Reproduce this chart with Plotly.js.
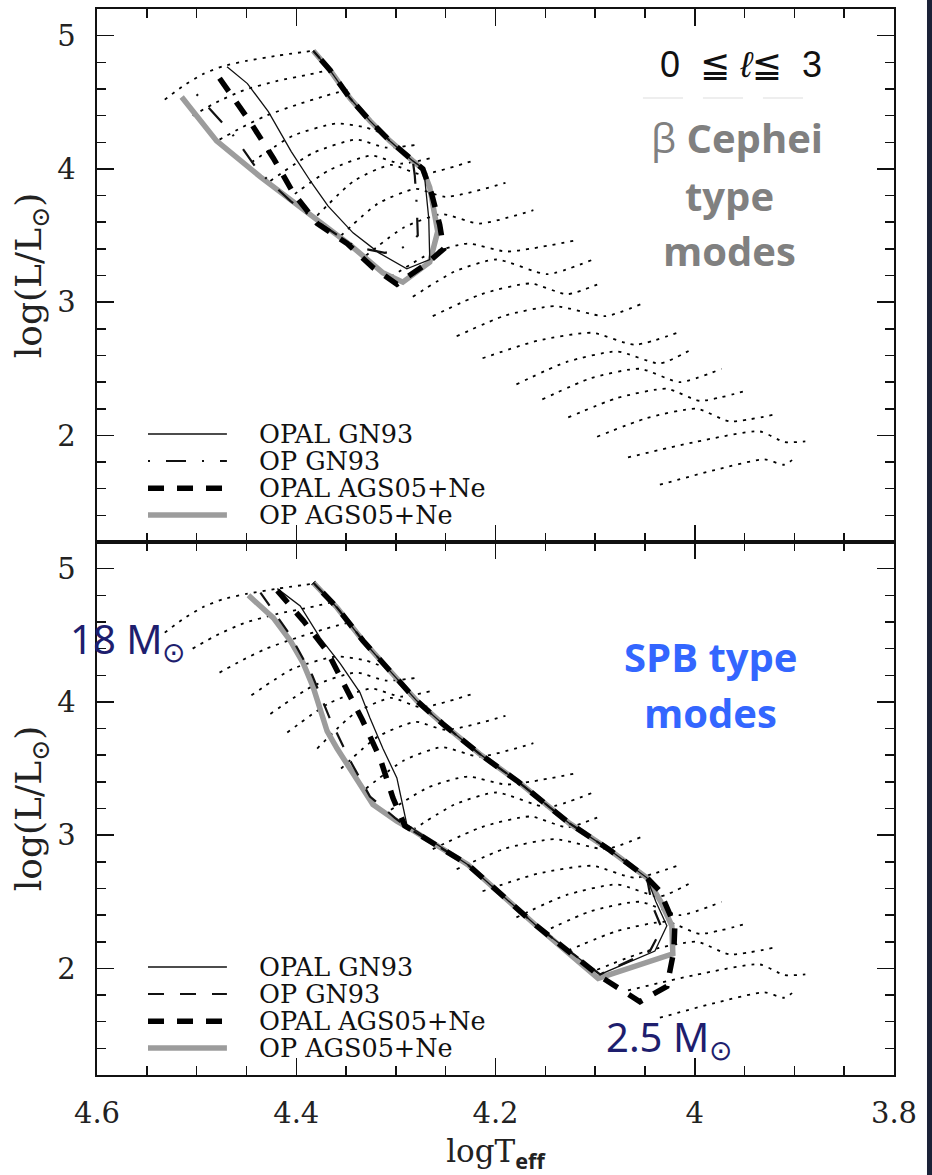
<!DOCTYPE html>
<html>
<head>
<meta charset="utf-8">
<script src="https://cdn.plot.ly/plotly-3.0.1.min.js"></script>
<style>html,body{margin:0;padding:0;background:#fff;}#chart{width:932px;height:1175px;}</style>
</head>
<body>
<div id="chart"></div>
<script>
// ---------- data ----------
// evolutionary tracks (dotted), logTeff / logL, 18 Msun (first) down to 2.5 Msun (last)
const trackT = [
 [4.532,4.514,4.494,4.474,4.450,4.419,4.383],
 [4.504,4.480,4.453,4.419,4.386,4.363],
 [4.477,4.455,4.430,4.400,4.370,4.345],
 [4.445,4.403,4.360,4.330,4.305],
 [4.426,4.383,4.340,4.310,4.280],
 [4.409,4.367,4.325,4.295,4.265],
 [4.379,4.342,4.305,4.275,4.223],
 [4.355,4.318,4.280,4.250,4.190],
 [4.330,4.292,4.254,4.216,4.162],
 [4.305,4.267,4.228,4.189,4.122],
 [4.283,4.241,4.199,4.148,4.102],
 [4.263,4.214,4.165,4.128,4.092],
 [4.239,4.190,4.140,4.090,4.054],
 [4.213,4.158,4.103,4.060,4.014],
 [4.179,4.129,4.078,4.035,4.001],
 [4.153,4.104,4.055,4.015,3.973],
 [4.127,4.078,4.028,3.995,3.946],
 [4.098,4.048,3.998,3.965,3.918],
 [4.067,4.000,3.935,3.910,3.889],
 [4.035,3.980,3.930,3.910,3.898]
];
const trackL = [
 [4.52,4.62,4.71,4.77,4.81,4.85,4.887],
 [4.40,4.50,4.59,4.66,4.71,4.75],
 [4.22,4.31,4.40,4.48,4.55,4.60],
 [4.05,4.25,4.34,4.31,4.24],
 [3.91,4.12,4.22,4.16,4.18],
 [3.77,3.99,4.10,4.04,4.08],
 [3.65,3.91,4.03,3.96,4.06],
 [3.50,3.74,3.85,3.79,3.895],
 [3.35,3.56,3.66,3.59,3.69],
 [3.19,3.36,3.44,3.38,3.46],
 [3.04,3.23,3.32,3.21,3.32],
 [2.895,3.06,3.14,3.06,3.15],
 [2.744,2.90,2.97,2.895,2.985],
 [2.579,2.71,2.77,2.68,2.78],
 [2.383,2.55,2.63,2.54,2.655],
 [2.27,2.43,2.50,2.40,2.50],
 [2.135,2.28,2.35,2.26,2.34],
 [1.99,2.13,2.20,2.105,2.16],
 [1.835,1.95,2.03,1.95,1.955],
 [1.63,1.74,1.82,1.78,1.84]
];

// beta Cephei instability domains (top panel)
const bcOpalGN93T = [4.4695,4.449,4.428,4.405,4.385,4.368,4.343,4.317,4.289,4.266,4.267,4.272,4.283,4.306,4.326,4.346,4.366,4.383];
const bcOpalGN93L = [4.767,4.64,4.43,4.13,3.90,3.72,3.52,3.37,3.25,3.32,3.63,4.00,4.06,4.21,4.36,4.53,4.74,4.887];
const bcOpGN93T   = [4.50,4.465,4.438,4.406,4.376,4.346,4.331,4.311,4.298,4.286,4.278,4.279,4.281,4.283,4.306,4.326,4.346,4.366,4.383];
const bcOpGN93L   = [4.56,4.27,3.985,3.76,3.59,3.44,3.40,3.37,3.39,3.44,3.50,3.72,3.95,4.06,4.21,4.36,4.53,4.74,4.887];
const bcOpalAGST  = [4.477,4.446,4.423,4.403,4.379,4.349,4.323,4.299,4.269,4.252,4.256,4.264,4.273,4.283,4.306,4.326,4.346,4.366,4.383];
const bcOpalAGSL  = [4.68,4.35,4.08,3.82,3.59,3.44,3.26,3.135,3.29,3.40,3.58,3.81,4.00,4.06,4.21,4.36,4.53,4.74,4.887];
const bcOpAGST    = [4.515,4.48,4.436,4.386,4.346,4.313,4.293,4.266,4.258,4.266,4.273,4.283,4.306,4.326,4.346,4.366,4.383];
const bcOpAGSL    = [4.54,4.21,3.94,3.65,3.43,3.22,3.15,3.30,3.53,3.86,4.00,4.06,4.21,4.36,4.53,4.74,4.887];

// SPB instability domains (bottom panel)
const spbOpalGN93T = [4.419,4.396,4.376,4.356,4.336,4.326,4.313,4.299,4.289,4.228,4.159,4.095,4.040,4.028,4.039,4.048,4.085,4.126,4.177,4.216,4.253,4.279,4.306,4.333,4.359,4.383];
const spbOpalGN93L = [4.85,4.72,4.48,4.29,4.07,3.88,3.65,3.43,3.08,2.78,2.32,1.955,2.13,2.32,2.50,2.68,2.887,3.09,3.40,3.61,3.835,4.008,4.233,4.459,4.707,4.895];
const spbOpGN93T   = [4.436,4.406,4.384,4.366,4.346,4.326,4.301,4.289,4.228,4.159,4.095,4.045,4.033,4.043,4.048,4.085,4.126,4.177,4.216,4.253,4.279,4.306,4.333,4.359,4.383];
const spbOpGN93L   = [4.82,4.50,4.20,3.87,3.56,3.29,3.13,3.06,2.78,2.32,1.955,2.13,2.30,2.48,2.68,2.887,3.09,3.40,3.61,3.835,4.008,4.233,4.459,4.707,4.895];
const spbOpalAGST  = [4.419,4.393,4.369,4.351,4.334,4.316,4.303,4.291,4.228,4.159,4.095,4.055,4.028,4.021,4.020,4.035,4.048,4.085,4.126,4.177,4.216,4.253,4.279,4.306,4.333,4.359,4.383];
const spbOpalAGSL  = [4.835,4.61,4.38,4.12,3.87,3.58,3.28,3.07,2.78,2.32,1.94,1.75,1.865,2.13,2.32,2.58,2.68,2.887,3.09,3.40,3.61,3.835,4.008,4.233,4.459,4.707,4.895];
const spbOpAGST    = [4.448,4.423,4.406,4.393,4.383,4.369,4.359,4.343,4.323,4.299,4.286,4.228,4.159,4.097,4.022,4.023,4.034,4.048,4.085,4.126,4.177,4.216,4.253,4.279,4.306,4.333,4.359,4.383];
const spbOpAGSL    = [4.80,4.63,4.46,4.29,4.11,3.78,3.65,3.46,3.23,3.105,3.05,2.78,2.32,1.925,2.11,2.32,2.50,2.68,2.887,3.09,3.40,3.61,3.835,4.008,4.233,4.459,4.707,4.895];

const legendLabels = ['OPAL GN93','OP GN93','OPAL AGS05+Ne','OP AGS05+Ne'];
const xTickVals = [4.6,4.4,4.2,4.0,3.8];
const xTickText = ['4.6','4.4','4.2','4','3.8'];
const yTickVals = [2,3,4,5];
const yTickText = ['2','3','4','5'];

// ---------- styles ----------
const SERIF = 'DejaVu Serif, serif';
const S_OPALGN = {color:'#111', width:1.3, dash:'solid'};
const S_OPGN_TOP = {color:'#111', width:2.2, dash:'2px,16px,20px,16px'};
const S_OPGN_BOT = {color:'#111', width:2.2, dash:'16px,16px'};
const S_OPALAGS = {color:'#000', width:5.5, dash:'16px,13px'};
const S_OPAGS = {color:'#9c9c9c', width:5.5, dash:'solid'};
const S_TRACK = {color:'#000', width:1.8, dash:'3px,6px', shape:'spline', smoothing:0.6};

const traces = [];
function addTracks(xa, ya){
  for (let i=0;i<trackT.length;i++){
    traces.push({x:trackT[i], y:trackL[i], xaxis:xa, yaxis:ya, mode:'lines', line:S_TRACK, hoverinfo:'skip', showlegend:false});
  }
}
function addLine(xa, ya, X, Y, st){
  traces.push({x:X, y:Y, xaxis:xa, yaxis:ya, mode:'lines', line:Object.assign({}, st), hoverinfo:'skip', showlegend:false});
}
addTracks('x','y');
addLine('x','y', bcOpAGST, bcOpAGSL, S_OPAGS);
addLine('x','y', bcOpalGN93T, bcOpalGN93L, S_OPALGN);
addLine('x','y', bcOpGN93T, bcOpGN93L, S_OPGN_TOP);
addLine('x','y', bcOpalAGST, bcOpalAGSL, S_OPALAGS);

addTracks('x2','y2');
addLine('x2','y2', spbOpAGST, spbOpAGSL, S_OPAGS);
addLine('x2','y2', spbOpalGN93T, spbOpalGN93L, S_OPALGN);
addLine('x2','y2', spbOpGN93T, spbOpGN93L, S_OPGN_BOT);
addLine('x2','y2', spbOpalAGST, spbOpalAGSL, S_OPALAGS);

// ---------- axes ----------
function xAxis(anchor, showLabels){
  return {
    anchor:anchor, domain:[0,1], range:[4.6,3.8], autorange:false,
    tickmode:'array', tickvals:xTickVals, ticktext:xTickText,
    showticklabels:showLabels, ticklabelstandoff:12,
    ticks:'inside', ticklen:17, tickwidth:1.5, tickcolor:'#111',
    minor:{ticks:'inside', ticklen:9, tickwidth:1.5, tickcolor:'#111', tickmode:'linear', tick0:3.8, dtick:0.05, showgrid:false},
    showline:true, linecolor:'#111', linewidth:1.6, mirror:'allticks',
    showgrid:false, zeroline:false,
    tickfont:{family:SERIF, size:29, color:'#222'}
  };
}
function yAxis(anchor, domain){
  return {
    anchor:anchor, domain:domain, range:[1.2,5.2], autorange:false,
    tickmode:'array', tickvals:yTickVals, ticktext:yTickText,
    ticklabelstandoff:14,
    ticks:'inside', ticklen:17, tickwidth:1.5, tickcolor:'#111',
    minor:{ticks:'inside', ticklen:9, tickwidth:1.5, tickcolor:'#111', tickmode:'linear', tick0:1.2, dtick:0.2, showgrid:false},
    showline:true, linecolor:'#111', linewidth:1.6, mirror:'allticks',
    showgrid:false, zeroline:false,
    tickfont:{family:SERIF, size:29, color:'#222'},
    title:{text:'log(L/L<sub>⊙</sub>)', font:{family:SERIF, size:36, color:'#222'}, standoff:4}
  };
}

const xa1 = xAxis('y', false);
const xa2 = xAxis('y2', true);
xa2.title = {text:'logT<sub><span style="font-family:Open Sans;font-weight:bold">eff</span></sub>', font:{family:SERIF, size:31, color:'#222'}, standoff:14};

// ---------- legend (manual, per panel) ----------
const shapes = [];
const annotations = [];
const legRows = [0.2026,0.152,0.101,0.0507];
function addLegend(xd, yd, opgnStyle){
  const st = [S_OPALGN, opgnStyle, S_OPALAGS, S_OPAGS];
  for (let i=0;i<legendLabels.length;i++){
    shapes.push({type:'line', xref:xd, yref:yd, x0:0.064, x1:0.163, y0:legRows[i], y1:legRows[i],
      line:{color:st[i].color, width:st[i].width, dash:st[i].dash}});
    annotations.push({xref:xd, yref:yd, x:0.2008, y:legRows[i], xanchor:'left', yanchor:'middle',
      text:legendLabels[i], showarrow:false, font:{family:SERIF, size:25.5, color:'#111'}});
  }
}
addLegend('x domain','y domain', S_OPGN_TOP);
addLegend('x2 domain','y2 domain', S_OPGN_BOT);

// ---------- text labels ----------
annotations.push(
  {xref:'paper', yref:'paper', x:0.808, y:0.9475, xanchor:'center', yanchor:'middle', showarrow:false,
   text:'0 &nbsp;≦ <i>ℓ</i>≦ &nbsp;3', font:{family:'Liberation Sans, DejaVu Sans', size:36, color:'#111'}},
  {xref:'paper', yref:'paper', x:0.803, y:0.879, xanchor:'center', yanchor:'middle', showarrow:false,
   text:'β <b>Cephei</b>', font:{family:'Open Sans', size:40, color:'#808080'}},
  {xref:'paper', yref:'paper', x:0.794, y:0.825, xanchor:'center', yanchor:'middle', showarrow:false,
   text:'<b>type</b>', font:{family:'Open Sans', size:40, color:'#808080'}},
  {xref:'paper', yref:'paper', x:0.794, y:0.773, xanchor:'center', yanchor:'middle', showarrow:false,
   text:'<b>modes</b>', font:{family:'Open Sans', size:40, color:'#808080'}},
  {xref:'paper', yref:'paper', x:0.770, y:0.393, xanchor:'center', yanchor:'middle', showarrow:false,
   text:'<b>SPB type</b>', font:{family:'Open Sans', size:40, color:'#3366ff'}},
  {xref:'paper', yref:'paper', x:0.770, y:0.340, xanchor:'center', yanchor:'middle', showarrow:false,
   text:'<b>modes</b>', font:{family:'Open Sans', size:40, color:'#3366ff'}},
  {xref:'paper', yref:'paper', x:-0.0364, y:0.408, xanchor:'left', yanchor:'middle', showarrow:false,
   text:'18 M<sub>⊙</sub>', font:{family:'Noto Sans', size:40, color:'#1e1e6e'}},
  {xref:'paper', yref:'paper', x:0.636, y:0.0347, xanchor:'left', yanchor:'middle', showarrow:false,
   text:'2.5 M<sub>⊙</sub>', font:{family:'Noto Sans', size:40, color:'#1e1e6e'}}
);

// faint rule under the degree label and dark strip at the right border of the picture
shapes.push({type:'line', xref:'paper', yref:'paper', x0:0.685, x1:0.89, y0:0.9165, y1:0.9165,
  line:{color:'#eeeeee', width:2, dash:'40px,20px'}});
shapes.push({type:'rect', xref:'paper', yref:'paper', x0:1.0414, x1:1.06, y0:-0.1, y1:1.01,
  fillcolor:'#1b2238', line:{width:0}, layer:'above'});

const layout = {
  width:932, height:1175,
  margin:{l:97, r:38, t:9, b:100},
  paper_bgcolor:'#ffffff', plot_bgcolor:'#ffffff',
  showlegend:false,
  xaxis:xa1, xaxis2:xa2,
  yaxis:yAxis('x',[0.5,1]), yaxis2:yAxis('x2',[0,0.5]),
  shapes:shapes, annotations:annotations,
  font:{family:SERIF, color:'#222'}
};
layout.xaxis2.matches = 'x';

Plotly.newPlot('chart', traces, layout, {staticPlot:true, displayModeBar:false});
</script>
</body>
</html>
